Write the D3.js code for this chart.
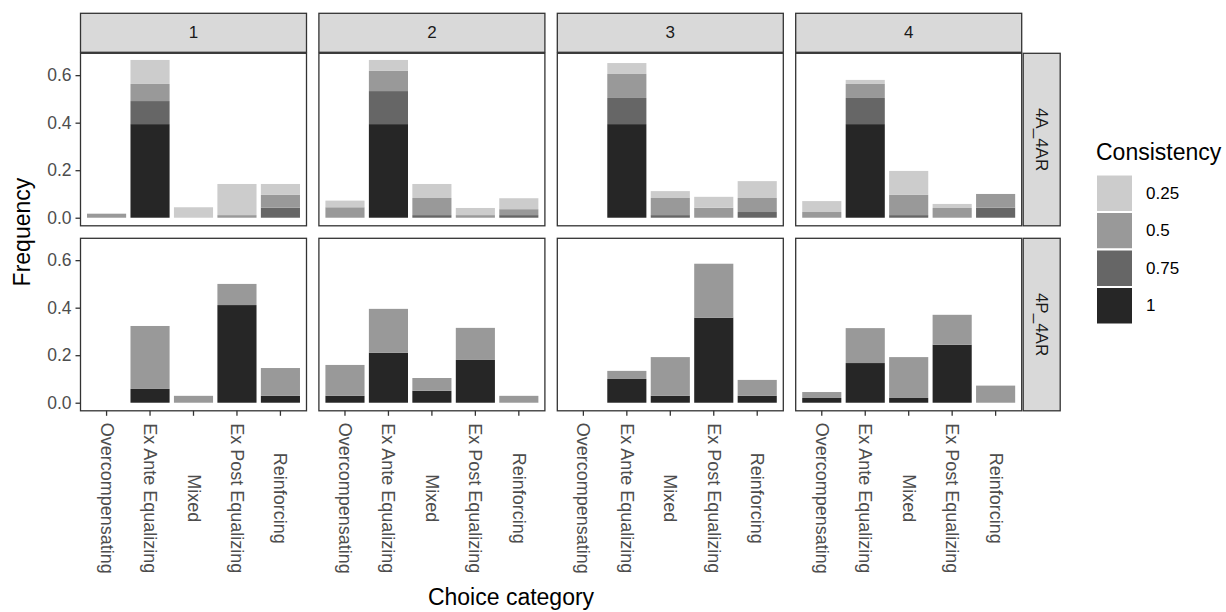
<!DOCTYPE html>
<html>
<head>
<meta charset="utf-8">
<script src="https://cdn.jsdelivr.net/npm/d3@7"></script>
<style>
  body { margin: 0; background: #fff; }
  text { font-family: "Liberation Sans", Arial, Helvetica, sans-serif; }
</style>
</head>
<body>
<div id="chart"></div>
<script>
// categories on the x axis
const categories = ["Overcompensating", "Ex Ante Equalizing", "Mixed", "Ex Post Equalizing", "Reinforcing"];
const rounds = ["1", "2", "3", "4"];
const treatments = ["4A_4AR", "4P_4AR"];
// stack order, bottom to top
const levels = ["1", "0.75", "0.5", "0.25"];
const levelColors = ["#262626", "#666666", "#999999", "#cccccc"];
const yTicks = [0, 0.2, 0.4, 0.6];

// frequency per category, columns follow `levels`
const f4A_r1 = [[0, 0, 0.017, 0], [0.394, 0.097, 0.072, 0.101], [0, 0, 0, 0.044], [0, 0, 0.011, 0.131], [0, 0.042, 0.054, 0.046]];
const f4A_r2 = [[0, 0, 0.044, 0.028], [0.394, 0.139, 0.085, 0.046], [0, 0.011, 0.072, 0.059], [0, 0, 0.011, 0.03], [0, 0.011, 0.025, 0.046]];
const f4A_r3 = [[0, 0, 0, 0], [0.394, 0.11, 0.101, 0.046], [0, 0.011, 0.072, 0.029], [0, 0, 0.042, 0.046], [0, 0.024, 0.059, 0.071]];
const f4A_r4 = [[0, 0, 0.024, 0.046], [0.394, 0.11, 0.059, 0.017], [0, 0.011, 0.085, 0.101], [0, 0, 0.041, 0.017], [0, 0.042, 0.058, 0]];
const f4P_r1 = [[0, 0, 0, 0], [0.058, 0, 0.265, 0], [0, 0, 0.029, 0], [0.411, 0, 0.089, 0], [0.029, 0, 0.117, 0]];
const f4P_r2 = [[0.029, 0, 0.13, 0], [0.21, 0, 0.185, 0], [0.05, 0, 0.054, 0], [0.18, 0, 0.135, 0], [0, 0, 0.029, 0]];
const f4P_r3 = [[0, 0, 0, 0], [0.1, 0, 0.034, 0], [0.029, 0, 0.163, 0], [0.358, 0, 0.227, 0], [0.029, 0, 0.067, 0]];
const f4P_r4 = [[0.02, 0, 0.025, 0], [0.167, 0, 0.147, 0], [0.02, 0, 0.172, 0], [0.244, 0, 0.126, 0], [0, 0, 0.072, 0]];

const panelData = [
  [f4A_r1, f4A_r2, f4A_r3, f4A_r4],
  [f4P_r1, f4P_r2, f4P_r3, f4P_r4]
];

const W = 1226, H = 612;
const plotLeft = 80.5, plotTop = 53.3;
const pw = 226, ph = 172.5, gapX = 12.4, gapY = 12.5;
const stripH = 39, stripW = 37;
const ink = "#333333", tickText = "#4d4d4d";

const svg = d3.select("#chart").append("svg")
  .attr("width", W).attr("height", H);

const x = d3.scaleBand().domain(categories).range([0, pw])
  .paddingInner(0.1).paddingOuter(0.15);
const y = d3.scaleLinear().domain([-0.034, 0.692]).range([ph, 0]);

const stack = d3.stack().keys(levels.map((l, i) => i));

treatments.forEach((tr, r) => {
  rounds.forEach((rd, c) => {
    const px = plotLeft + c * (pw + gapX);
    const py = plotTop + r * (ph + gapY);
    const g = svg.append("g").attr("transform", `translate(${px},${py})`);

    g.append("rect").attr("width", pw).attr("height", ph).attr("fill", "#fff");

    const rows = panelData[r][c].map((v, i) => Object.assign({ cat: categories[i] }, v));
    const series = stack(rows);

    g.selectAll("g.layer")
      .data(series)
      .join("g")
      .attr("class", "layer")
      .attr("fill", (d, i) => levelColors[i])
      .selectAll("rect")
      .data(d => d.filter(s => s[1] - s[0] > 0))
      .join("rect")
      .attr("x", d => x(d.data.cat))
      .attr("width", x.bandwidth())
      .attr("y", d => y(d[1]))
      .attr("height", d => y(d[0]) - y(d[1]));

    g.append("rect").attr("width", pw).attr("height", ph)
      .attr("fill", "none").attr("stroke", ink).attr("stroke-width", 1.3);

    // y axis on first column
    if (c === 0) {
      const ya = g.append("g").call(d3.axisLeft(y).tickValues(yTicks).tickFormat(d3.format(".1f")).tickSize(5).tickPadding(4));
      ya.select(".domain").remove();
      ya.selectAll(".tick line").attr("stroke", ink).attr("stroke-width", 1.3);
      ya.selectAll(".tick text").attr("fill", tickText).style("font-size", "17.5px");
    }

    // x axis on bottom row
    if (r === treatments.length - 1) {
      const xa = g.append("g").attr("transform", `translate(0,${ph})`)
        .call(d3.axisBottom(x).tickSize(5).tickPadding(0));
      xa.select(".domain").remove();
      xa.selectAll(".tick line").attr("stroke", ink).attr("stroke-width", 1.3);
      xa.selectAll(".tick text")
        .attr("fill", tickText).style("font-size", "18px")
        .attr("text-anchor", "middle").attr("dy", null)
        .attr("transform", "translate(0,87.5) rotate(90)")
        .attr("y", 0).attr("x", 0)
        .attr("dominant-baseline", "central");
    }

    // column strips on top row
    if (r === 0) {
      const s = svg.append("g").attr("transform", `translate(${px},${plotTop - stripH - 1})`);
      s.append("rect").attr("width", pw).attr("height", stripH)
        .attr("fill", "#d9d9d9").attr("stroke", ink).attr("stroke-width", 1.3);
      s.append("text").attr("x", pw / 2).attr("y", stripH / 2)
        .attr("text-anchor", "middle").attr("dominant-baseline", "central")
        .attr("fill", "#1a1a1a").style("font-size", "17px").text(rd);
    }

    // row strips on last column
    if (c === rounds.length - 1) {
      const s = svg.append("g").attr("transform", `translate(${px + pw + 1.5},${py})`);
      s.append("rect").attr("width", stripW).attr("height", ph)
        .attr("fill", "#d9d9d9").attr("stroke", ink).attr("stroke-width", 1.3);
      s.append("text")
        .attr("transform", `translate(${stripW / 2},${ph / 2}) rotate(90)`)
        .attr("text-anchor", "middle").attr("dominant-baseline", "central")
        .attr("fill", "#1a1a1a").style("font-size", "17px").text(tr);
    }
  });
});

// axis titles
svg.append("text")
  .attr("x", 511).attr("y", 605)
  .attr("text-anchor", "middle").style("font-size", "23px").attr("fill", "#000")
  .text("Choice category");
svg.append("text")
  .attr("transform", `translate(30,${plotTop + ph + gapY / 2}) rotate(-90)`)
  .attr("text-anchor", "middle").style("font-size", "23px").attr("fill", "#000")
  .text("Frequency");

// legend, top to bottom 0.25 .. 1
const legendLevels = levels.slice().reverse();
const legendColors = levelColors.slice().reverse();
const lg = svg.append("g").attr("transform", "translate(1096,0)");
lg.append("text").attr("x", 0).attr("y", 160).style("font-size", "23px").attr("fill", "#000")
  .text("Consistency");
const keyY = d3.scaleBand().domain(legendLevels).range([174.5, 324.5]);
lg.selectAll("rect.key")
  .data(legendLevels)
  .join("rect")
  .attr("class", "key")
  .attr("x", 0).attr("y", d => keyY(d))
  .attr("width", 37).attr("height", keyY.bandwidth())
  .attr("fill", (d, i) => legendColors[i])
  .attr("stroke", "#fff").attr("stroke-width", 2);
lg.selectAll("text.lab")
  .data(legendLevels)
  .join("text")
  .attr("class", "lab")
  .attr("x", 50).attr("y", d => keyY(d) + keyY.bandwidth() / 2)
  .attr("dominant-baseline", "central")
  .style("font-size", "17px").attr("fill", "#000")
  .text(d => d);
</script>
</body>
</html>
